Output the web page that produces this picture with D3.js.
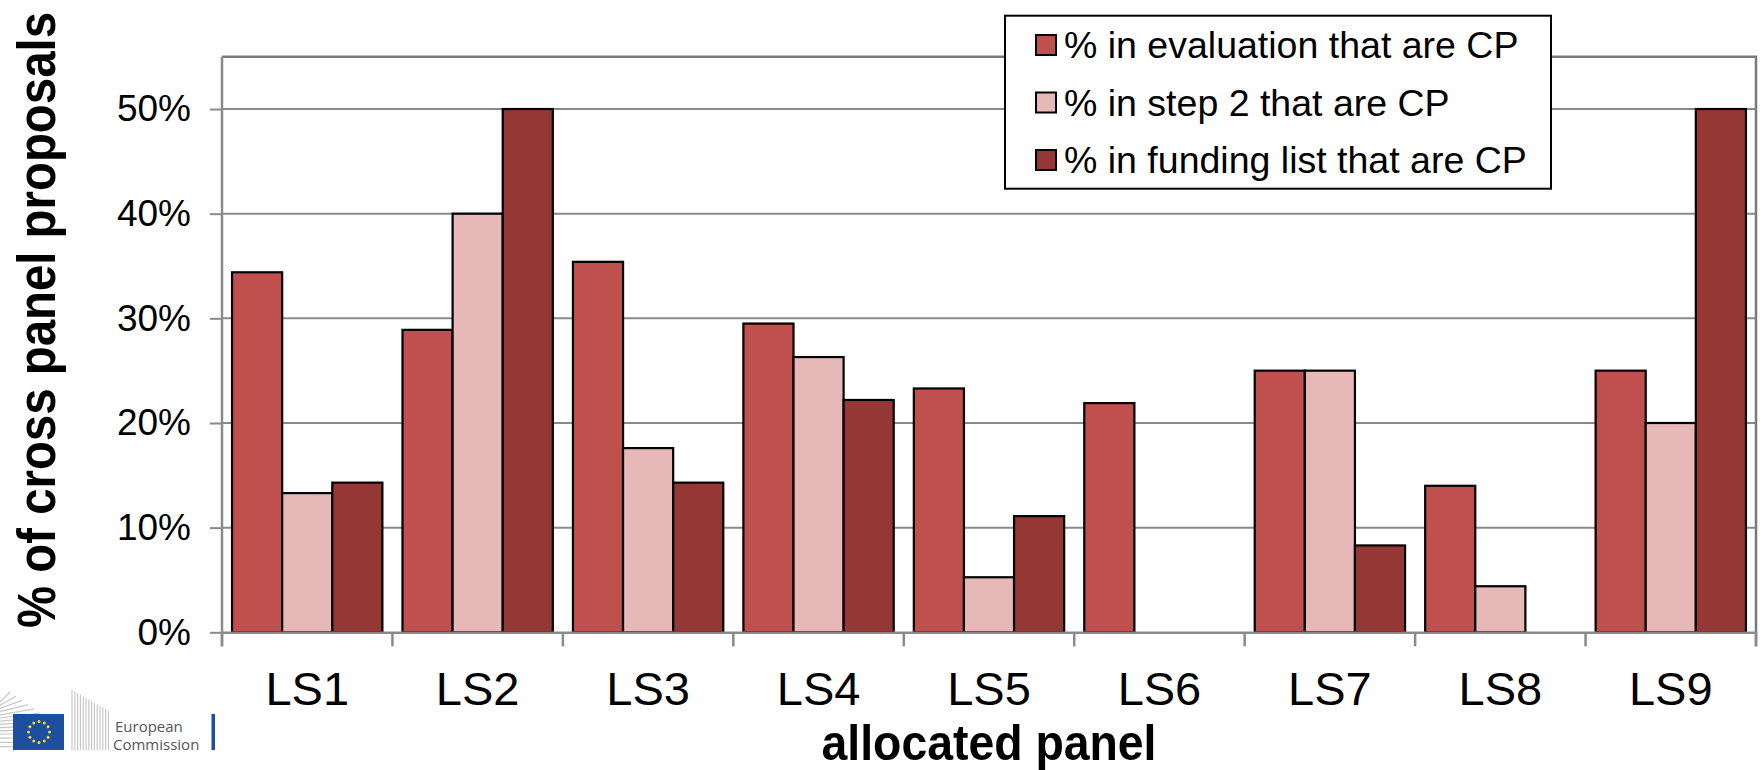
<!DOCTYPE html>
<html>
<head>
<meta charset="utf-8">
<script src="https://cdn.jsdelivr.net/npm/d3@7"></script>
<style>
  body { margin: 0; background: #fff; }
  svg { display: block; font-family: "Liberation Sans", Arial, sans-serif; }
</style>
</head>
<body>
<svg width="1762" height="770"></svg>
<script>
const w = 1762;
const h = 770;

// data
const panels = ["LS1", "LS2", "LS3", "LS4", "LS5", "LS6", "LS7", "LS8", "LS9"];
const seriesNames = [
  "% in evaluation that are CP",
  "% in step 2 that are CP",
  "% in funding list that are CP"
];
const evaluation = [0.344, 0.289, 0.354, 0.295, 0.233, 0.219, 0.25, 0.14, 0.25];
const step2 = [0.133, 0.40, 0.176, 0.263, 0.0526, 0, 0.25, 0.044, 0.20];
const funding = [0.143, 0.50, 0.143, 0.222, 0.111, 0, 0.083, 0, 0.50];
const yTicks = [0, 0.1, 0.2, 0.3, 0.4, 0.5];
const colors = ["#C0504D", "#E6B9B8", "#953735"];

const series = [evaluation, step2, funding];

const plotLeft = 222, plotRight = 1756, plotTop = 56.7, plotBottom = 632.3;
const gridColor = "#8a8a8a";

const svg = d3.select("svg");

const x = d3.scaleBand()
  .domain(panels)
  .range([plotLeft, plotRight])
  .paddingInner(0.118)
  .paddingOuter(0.059);

const xs = d3.scaleBand()
  .domain(d3.range(series.length))
  .range([0, x.bandwidth()]);

const y = d3.scaleLinear()
  .domain([0, 0.55])
  .range([plotBottom, plotTop]);

const color = d3.scaleOrdinal().domain(d3.range(series.length)).range(colors);

// gridlines
svg.append("g")
  .selectAll("line")
  .data(yTicks.filter(d => d > 0))
  .enter().append("line")
  .attr("x1", plotLeft).attr("x2", plotRight)
  .attr("y1", d => y(d)).attr("y2", d => y(d))
  .attr("stroke", gridColor)
  .attr("stroke-width", 2);

// plot frame top + right
svg.append("path")
  .attr("d", `M${plotLeft},${plotTop}H${plotRight}V${plotBottom + 14}`)
  .attr("fill", "none")
  .attr("stroke", "#7a7a7a")
  .attr("stroke-width", 2.5);

// y axis
const yAxis = svg.append("g")
  .attr("transform", `translate(${plotLeft},0)`)
  .call(d3.axisLeft(y).tickValues(yTicks).tickFormat(d3.format(".0%")).tickSize(12).tickPadding(19));
yAxis.select(".domain").remove();
yAxis.selectAll(".tick line").attr("stroke", gridColor).attr("stroke-width", 2);
yAxis.selectAll(".tick text")
  .attr("font-size", 37)
  .attr("font-family", "Liberation Sans, Arial, sans-serif")
  .attr("fill", "#000");
svg.append("line")
  .attr("x1", plotLeft).attr("x2", plotLeft)
  .attr("y1", plotTop).attr("y2", plotBottom + 14)
  .attr("stroke", gridColor).attr("stroke-width", 2.5);

// bars
const rows = panels.map((p, i) => ({ panel: p, values: series.map(s => s[i]) }));

const group = svg.append("g")
  .selectAll("g")
  .data(rows)
  .enter().append("g")
  .attr("transform", d => `translate(${x(d.panel)},0)`);

group.selectAll("rect")
  .data(d => d.values.map((v, k) => ({ k, v })).filter(e => e.v > 0))
  .enter().append("rect")
  .attr("x", d => xs(d.k))
  .attr("y", d => y(d.v))
  .attr("width", xs.bandwidth())
  .attr("height", d => plotBottom - y(d.v))
  .attr("fill", d => color(d.k))
  .attr("stroke", "#000")
  .attr("stroke-width", 2.2);

// x axis
const xAxis = svg.append("g")
  .attr("transform", `translate(0,${plotBottom})`)
  .call(d3.axisBottom(x).tickSize(0).tickPadding(39));
xAxis.select(".domain")
  .attr("stroke", gridColor).attr("stroke-width", 2.5);
xAxis.selectAll(".tick text")
  .attr("font-size", 47)
  .attr("font-family", "Liberation Sans, Arial, sans-serif")
  .attr("fill", "#000");

// category boundary ticks
svg.append("g")
  .selectAll("line")
  .data(d3.range(panels.length + 1))
  .enter().append("line")
  .attr("x1", i => plotLeft + i * x.step())
  .attr("x2", i => plotLeft + i * x.step())
  .attr("y1", plotBottom)
  .attr("y2", plotBottom + 14)
  .attr("stroke", gridColor)
  .attr("stroke-width", 2.5);

// axis titles
svg.append("text")
  .attr("transform", "translate(55,320) rotate(-90)")
  .attr("text-anchor", "middle")
  .attr("font-weight", "bold")
  .attr("font-size", 53)
  .attr("textLength", 616)
  .attr("lengthAdjust", "spacingAndGlyphs")
  .text("% of cross panel proposals");

svg.append("text")
  .attr("x", (plotLeft + plotRight) / 2)
  .attr("y", 760)
  .attr("text-anchor", "middle")
  .attr("font-weight", "bold")
  .attr("font-size", 50)
  .attr("textLength", 335)
  .attr("lengthAdjust", "spacingAndGlyphs")
  .text("allocated panel");

// legend
const legend = svg.append("g");
legend.append("rect")
  .attr("x", 1005).attr("y", 15.7)
  .attr("width", 546).attr("height", 173)
  .attr("fill", "#fff")
  .attr("stroke", "#000")
  .attr("stroke-width", 2);

const item = legend.selectAll(".legend-item")
  .data(seriesNames)
  .enter().append("g")
  .attr("class", "legend-item")
  .attr("transform", (d, i) => `translate(1036,${35 + i * 57.5})`);

item.append("rect")
  .attr("width", 20).attr("height", 20)
  .attr("fill", (d, i) => color(i))
  .attr("stroke", "#000")
  .attr("stroke-width", 2);

item.append("text")
  .attr("x", 28)
  .attr("y", 23)
  .attr("font-size", 37.5)
  .text(d => d);

// European Commission logo (approximation)
const logo = svg.append("g");
d3.range(14).forEach(i => {
  const yy = 692 + i * 4.2;
  logo.append("line")
    .attr("x1", 0).attr("x2", Math.min(48, 10 + i * 6))
    .attr("y1", yy + 10 - Math.min(10, i)).attr("y2", yy)
    .attr("stroke", "#c8c8c8").attr("stroke-width", 1.2);
});
d3.range(14).forEach(i => {
  const xx = 72 + i * 2.8;
  logo.append("line")
    .attr("x1", xx).attr("x2", xx)
    .attr("y1", 690 + i * 1.6).attr("y2", 750)
    .attr("stroke", "#c8c8c8").attr("stroke-width", 1.2);
});
logo.append("rect")
  .attr("x", 13).attr("y", 714).attr("width", 51).attr("height", 36)
  .attr("fill", "#1d4f9e");
d3.range(12).forEach(i => {
  const a = i / 12 * 2 * Math.PI;
  logo.append("circle")
    .attr("cx", 39 + 10.5 * Math.cos(a))
    .attr("cy", 732 + 10.5 * Math.sin(a))
    .attr("r", 1.5)
    .attr("fill", "#f4d631");
});
logo.append("text")
  .attr("x", 115).attr("y", 732)
  .attr("font-family", "Open Sans, Liberation Sans, sans-serif")
  .attr("font-size", 15).attr("fill", "#555")
  .text("European");
logo.append("text")
  .attr("x", 113).attr("y", 750)
  .attr("font-family", "Open Sans, Liberation Sans, sans-serif")
  .attr("font-size", 15).attr("fill", "#555")
  .text("Commission");
logo.append("rect")
  .attr("x", 211.5).attr("y", 714).attr("width", 3.5).attr("height", 36)
  .attr("fill", "#1d4f9e");
</script>
</body>
</html>
